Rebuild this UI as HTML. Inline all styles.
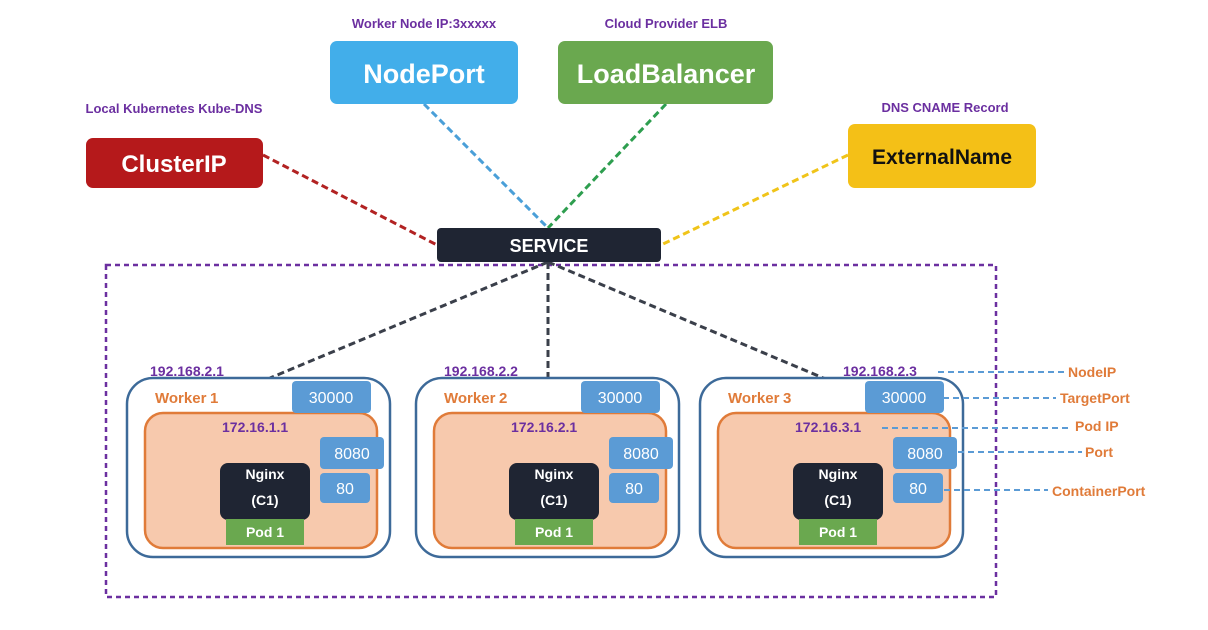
<!DOCTYPE html>
<html><head><meta charset="utf-8"><style>html,body{margin:0;padding:0;background:#fff}svg{display:block}text{font-family:"Liberation Sans",sans-serif;font-weight:bold}text.n{font-weight:normal}</style></head><body>
<svg width="1208" height="630" viewBox="0 0 1208 630" xmlns="http://www.w3.org/2000/svg">
<rect x="0" y="0" width="1208" height="630" fill="#fff"/>
<rect x="106" y="265" width="890" height="332" fill="none" stroke="#6b2fa0" stroke-width="2.5" stroke-dasharray="5,4"/>
<g stroke-width="3" stroke-dasharray="7,4" fill="none">
<line x1="263" y1="155" x2="437" y2="245" stroke="#b22222"/>
<line x1="424" y1="104" x2="548" y2="228" stroke="#4a9fd8"/>
<line x1="666" y1="104" x2="548" y2="228" stroke="#2e9e4f"/>
<line x1="848" y1="155" x2="661" y2="245" stroke="#f0c419"/>
<line x1="548" y1="262" x2="270" y2="378" stroke="#3a3f4a"/>
<line x1="548" y1="262" x2="548" y2="378" stroke="#3a3f4a"/>
<line x1="548" y1="262" x2="828" y2="380" stroke="#3a3f4a"/>
</g>
<rect x="86" y="138" width="177" height="50" rx="7" fill="#b5191b"/>
<text x="174" y="172" fill="#fff" font-size="24" text-anchor="middle">ClusterIP</text>
<text x="174" y="113" fill="#6b2fa0" font-size="13" text-anchor="middle">Local Kubernetes Kube-DNS</text>
<rect x="330" y="41" width="188" height="63" rx="7" fill="#42aeea"/>
<text x="424" y="83" fill="#fff" font-size="27" text-anchor="middle">NodePort</text>
<text x="424" y="28" fill="#6b2fa0" font-size="13" text-anchor="middle">Worker Node IP:3xxxxx</text>
<rect x="558" y="41" width="215" height="63" rx="7" fill="#6aa84f"/>
<text x="666" y="83" fill="#fff" font-size="27" text-anchor="middle">LoadBalancer</text>
<text x="666" y="28" fill="#6b2fa0" font-size="13" text-anchor="middle">Cloud Provider ELB</text>
<rect x="848" y="124" width="188" height="64" rx="7" fill="#f4c017"/>
<text x="942" y="164" fill="#111" font-size="21" text-anchor="middle">ExternalName</text>
<text x="945" y="112" fill="#6b2fa0" font-size="13" text-anchor="middle">DNS CNAME Record</text>
<rect x="437" y="228" width="224" height="34" rx="4" fill="#1f2533"/>
<text x="549" y="252" fill="#fff" font-size="18" text-anchor="middle">SERVICE</text>
<g id="w">
<rect x="127" y="378" width="263" height="179" rx="26" fill="#fff" stroke="#3d6a99" stroke-width="2.5"/>
<rect x="145" y="413" width="232" height="135" rx="18" fill="#f7c9ad" stroke="#e07b39" stroke-width="2.5"/>
<rect x="292" y="381" width="79" height="32" rx="4" fill="#5b9bd5"/>
<rect x="320" y="437" width="64" height="32" rx="4" fill="#5b9bd5"/>
<rect x="320" y="473" width="50" height="30" rx="4" fill="#5b9bd5"/>
<rect x="220" y="463" width="90" height="57" rx="8" fill="#1f2533"/>
<rect x="226" y="519" width="78" height="26" fill="#6aa84f"/>
<text x="155" y="403" fill="#e07b39" font-size="15">Worker</text>
<text x="265" y="479" fill="#fff" font-size="14" text-anchor="middle">Nginx</text>
<text x="265" y="505" fill="#fff" font-size="14" text-anchor="middle">(C1)</text>
<text x="265" y="537" fill="#fff" font-size="14" text-anchor="middle">Pod 1</text>
</g>
<use href="#w" x="289"/>
<use href="#w" x="573"/>
<g font-size="16" fill="#fff" text-anchor="middle">
<text class="n" x="331" y="403">30000</text><text class="n" x="352" y="459">8080</text><text class="n" x="345" y="494">80</text>
<text class="n" x="620" y="403">30000</text><text class="n" x="641" y="459">8080</text><text class="n" x="634" y="494">80</text>
<text class="n" x="904" y="403">30000</text><text class="n" x="925" y="459">8080</text><text class="n" x="918" y="494">80</text>
</g>
<g fill="#e07b39" font-size="15">
<text x="210" y="403">1</text><text x="499" y="403">2</text><text x="783" y="403">3</text>
</g>
<g fill="#6b2fa0" font-size="14">
<text x="150" y="376">192.168.2.1</text><text x="222" y="432">172.16.1.1</text>
<text x="444" y="376">192.168.2.2</text><text x="511" y="432">172.16.2.1</text>
<text x="843" y="376">192.168.2.3</text><text x="795" y="432">172.16.3.1</text>
</g>
<g stroke="#5b9bd5" stroke-width="2" stroke-dasharray="6,4">
<line x1="938" y1="372" x2="1064" y2="372"/>
<line x1="943" y1="398" x2="1056" y2="398"/>
<line x1="882" y1="428" x2="1070" y2="428"/>
<line x1="958" y1="452" x2="1082" y2="452"/>
<line x1="944" y1="490" x2="1048" y2="490"/>
</g>
<g fill="#e07b39" font-size="14">
<text x="1068" y="377">NodeIP</text>
<text x="1060" y="403">TargetPort</text>
<text x="1075" y="431">Pod IP</text>
<text x="1085" y="457">Port</text>
<text x="1052" y="496">ContainerPort</text>
</g>
</svg>
</body></html>
